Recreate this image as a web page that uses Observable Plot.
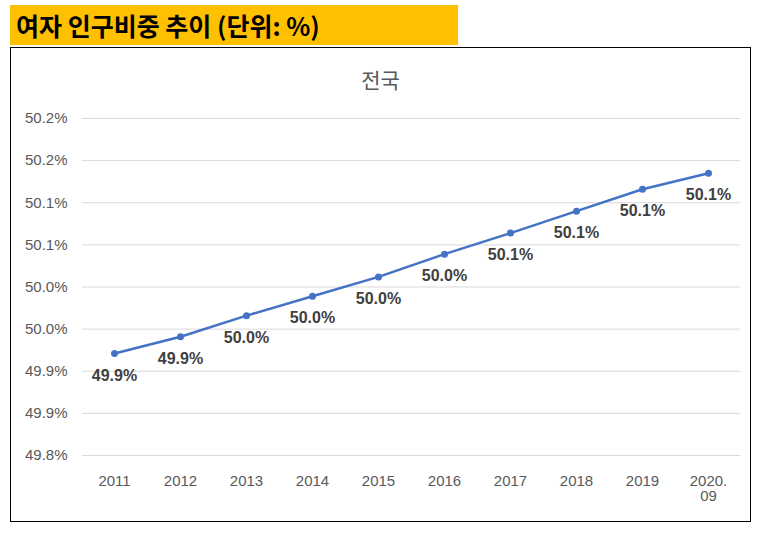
<!DOCTYPE html>
<html><head><meta charset="utf-8">
<script src="https://cdn.jsdelivr.net/npm/d3@7"></script>
<script src="https://cdn.jsdelivr.net/npm/@observablehq/plot@0.6"></script>
<style>
body{margin:0;background:#fff;font-family:"Noto Sans CJK KR",sans-serif;}
#t{position:absolute;left:10px;top:5px;width:448px;height:40px;background:#FFC000;font-weight:bold;font-size:25px;line-height:40px;padding-left:6px;box-sizing:border-box;color:#000;}
#box{position:absolute;left:10px;top:47px;width:741px;height:475px;border:1.5px solid #000;box-sizing:border-box;}
#sub{position:absolute;left:0;width:100%;top:16px;text-align:center;font-size:21px;color:#595959;}
</style></head><body>
<div id="t">여자 인구비중 추이 (단위: %)</div>
<div id="box"><div id="sub">전국</div><div id="c"></div></div>
<script>
const years=["2011","2012","2013","2014","2015","2016","2017","2018","2019","2020.09"];
const values=[49.921,49.941,49.966,49.989,50.012,50.039,50.064,50.09,50.116,50.135];
const yTicks=[49.8,49.85,49.9,49.95,50.0,50.05,50.1,50.15,50.2];
const data=years.map((y,i)=>({year:y,v:values[i]}));
const fmt=d=>(Math.round(d*10+1e-6)/10).toFixed(1)+"%";
const chart=Plot.plot({
  width:738,height:472,marginTop:70,marginBottom:65,marginLeft:71,marginRight:9,
  style:{fontFamily:"Liberation Sans, Arial, sans-serif",fontSize:"15px",color:"#595959"},
  x:{type:"point",domain:years,padding:0.45,label:null,tickSize:0,tickPadding:20,
     tickFormat:d=>d==="2020.09"?"2020.\n09":d},
  y:{domain:[49.8,50.2],ticks:yTicks,tickFormat:fmt,label:null,tickSize:0,tickPadding:15},
  marks:[
    Plot.gridY(yTicks,{stroke:"#d9d9d9",strokeOpacity:1}),
    Plot.line(data,{x:"year",y:"v",stroke:"#4472C4",strokeWidth:2.5}),
    Plot.dot(data,{x:"year",y:"v",fill:"#4472C4",r:3.5}),
    Plot.text(data,{x:"year",y:"v",text:d=>fmt(d.v),dy:22,fontWeight:"bold",fill:"#404040",fontSize:16})
  ]
});
chart.querySelectorAll("[aria-label='x-axis tick label'] text").forEach(t=>t.setAttribute("line-height","1.4"));
document.getElementById("c").appendChild(chart);
</script></body></html>
